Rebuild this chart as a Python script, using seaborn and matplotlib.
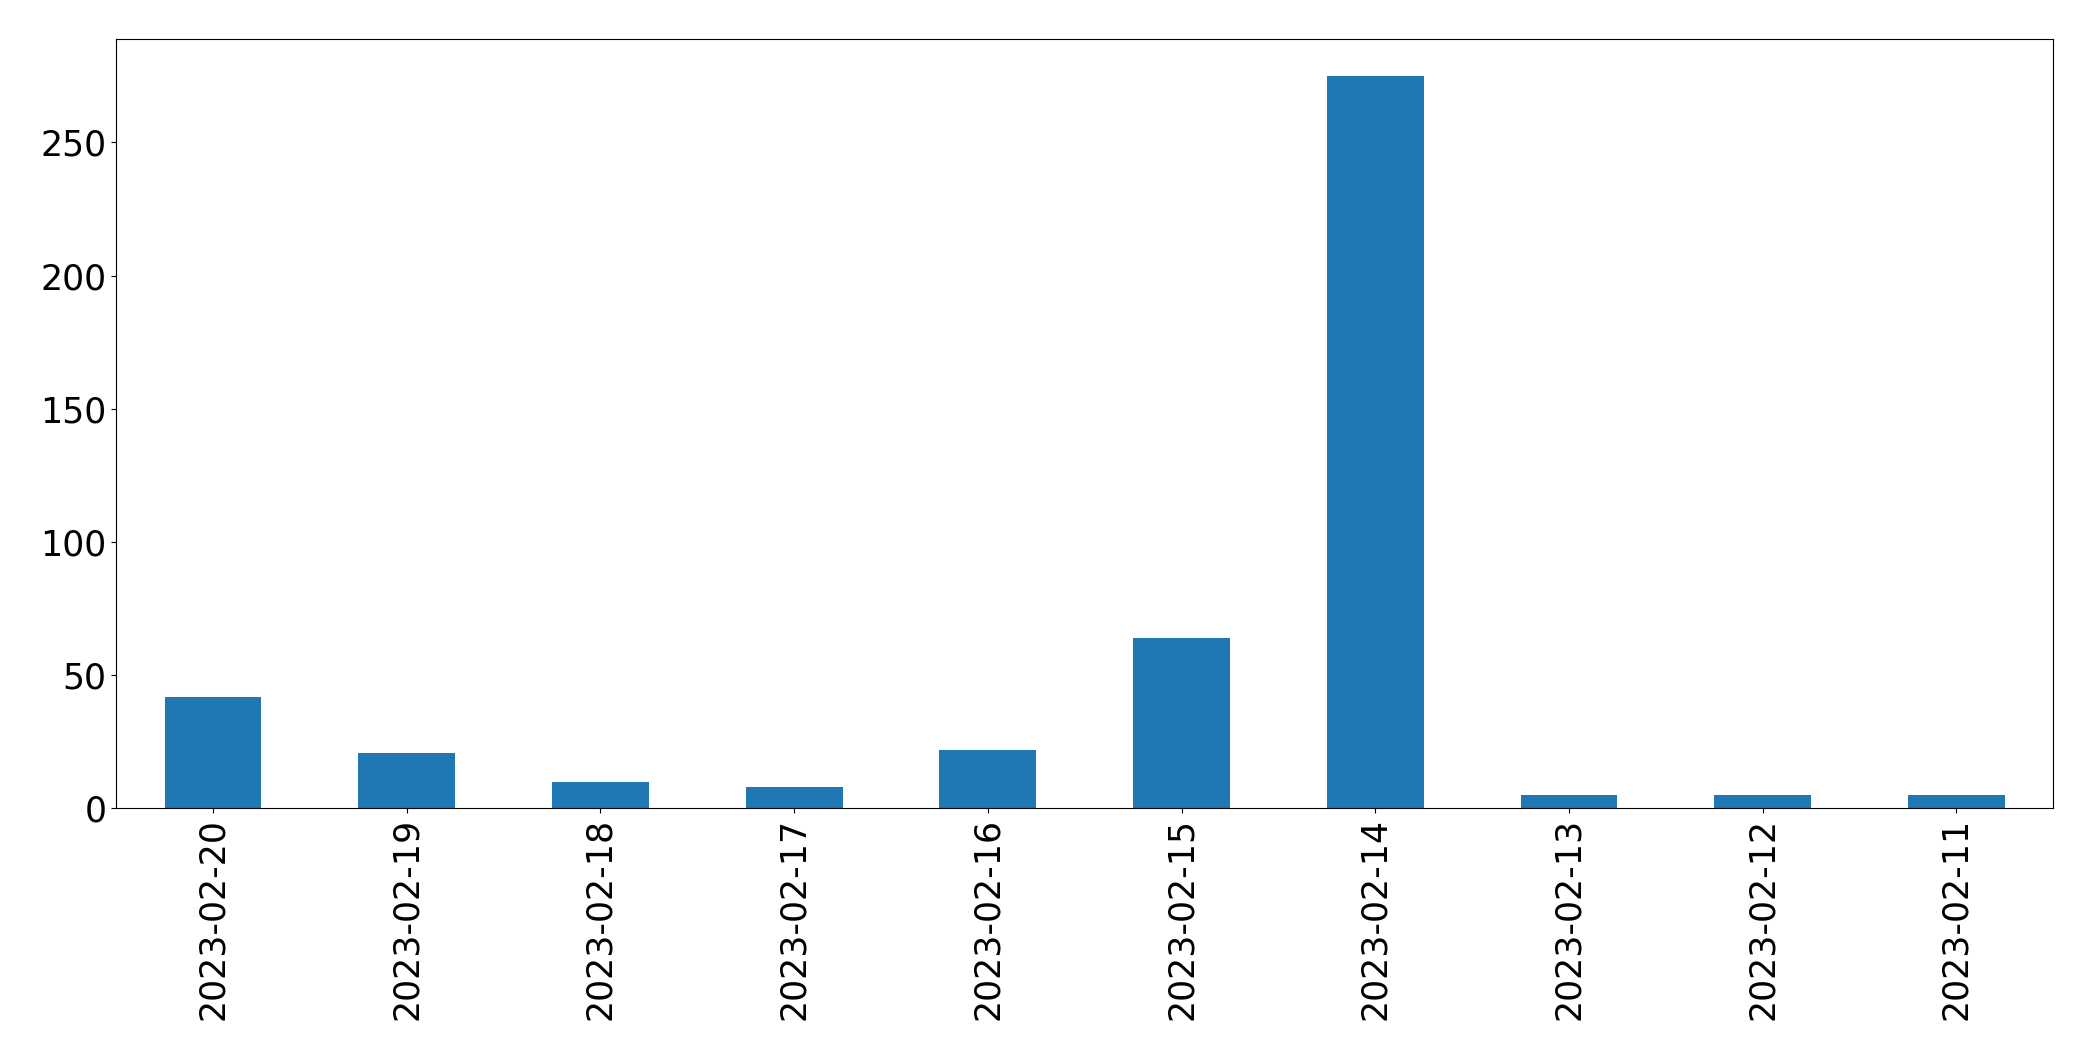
import pandas as pd
import seaborn as sns
import matplotlib
matplotlib.use("Agg")
import matplotlib.pyplot as plt

# daily counts, newest first
dates = ["2023-02-20", "2023-02-19", "2023-02-18", "2023-02-17", "2023-02-16",
         "2023-02-15", "2023-02-14", "2023-02-13", "2023-02-12", "2023-02-11"]
counts = [42, 21, 10, 8, 22, 64, 275, 5, 5, 5]

df = pd.DataFrame({"date": dates, "count": counts})

fig = plt.figure(figsize=(20.93, 10.61), dpi=100)
ax = fig.add_axes([0.0555, 0.238, 0.9255, 0.725])
sns.barplot(data=df, x="date", y="count", order=dates, color="#1f77b4",
            saturation=1, width=0.5, ax=ax)
ax.set_xlabel("")
ax.set_ylabel("")
ax.set_ylim(0, 275 * 1.05)
ax.tick_params(axis="both", labelsize=25)
for s in ax.spines.values():
    s.set_color("black")
plt.setp(ax.get_xticklabels(), rotation=90)

fig.savefig("out.png", dpi=100)
